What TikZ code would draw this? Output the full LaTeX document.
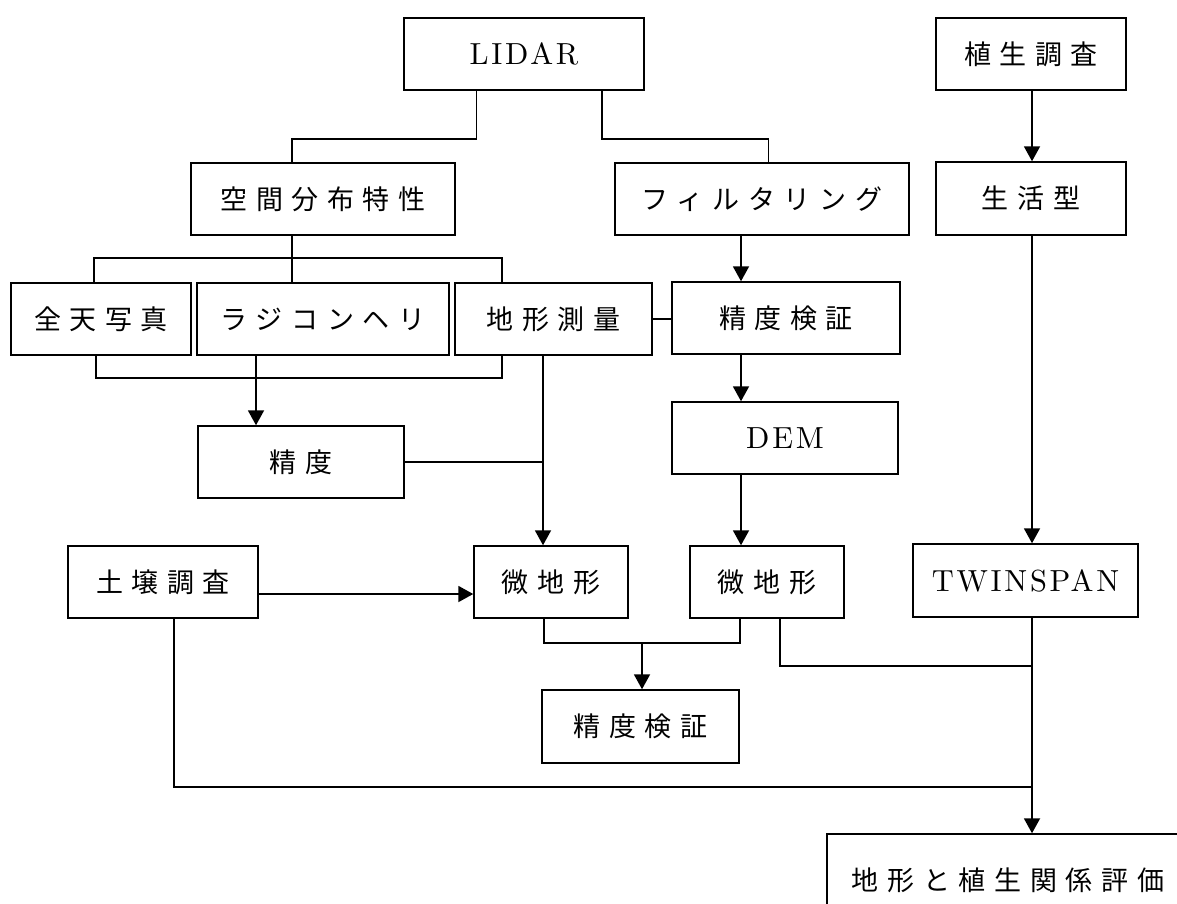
\documentclass[tikz,border=0pt]{standalone}
\usepackage{fontspec}
\usetikzlibrary{arrows.meta}
\newfontfamily\jpfont{Noto Sans CJK JP}[LetterSpace=32]
\newfontfamily\latfont{lmroman10-regular.otf}[LetterSpace=9]
\newcommand\jpf{\jpfont\fontsize{27pt}{30pt}\selectfont}
\newcommand\ltf{\latfont\fontsize{30.5pt}{34pt}\selectfont}
\begin{document}
\begin{tikzpicture}[x=1pt,y=-1pt,
  box/.style={draw, line width=1.5pt, inner sep=0pt, font=\jpf},
  lbox/.style={draw, line width=1.5pt, inner sep=0pt, font=\ltf},
  ln/.style={line width=1.5pt},
  arr/.style={line width=1.9pt, -{Triangle[width=16pt,length=15pt]}}]
\useasboundingbox (0,0) rectangle (1177,903);
% nodes
\node[lbox, minimum width=240pt, minimum height=72pt] (lidar) at (524,54) {LIDAR};
\node[box, minimum width=190pt, minimum height=72pt] (veg) at (1031,54) {植生調査};
\node[box, minimum width=190pt, minimum height=73pt] (life) at (1031,198.5) {生活型};
\node[box, minimum width=264pt, minimum height=72pt] (kukan) at (323,199) {空間分布特性};
\node[box, minimum width=294pt, minimum height=72pt] (filter) at (762,199) {フィルタリング};
\node[box, minimum width=180pt, minimum height=72pt] (zenten) at (101,319) {全天写真};
\node[box, minimum width=252pt, minimum height=72pt] (radio) at (323,319) {ラジコンヘリ};
\node[box, minimum width=197pt, minimum height=72pt] (chikei) at (553.5,319) {地形測量};
\node[box, minimum width=228pt, minimum height=72pt] (ken1) at (786,318) {精度検証};
\node[box, minimum width=206pt, minimum height=72pt] (seido) at (301,462) {精度};
\node[lbox, minimum width=226pt, minimum height=72pt] (dem) at (785,438) {DEM};
\node[box, minimum width=190pt, minimum height=72pt] (dojo) at (163,582) {土壌調査};
\node[box, minimum width=154pt, minimum height=72pt] (bichi1) at (551,582) {微地形};
\node[box, minimum width=154pt, minimum height=72pt] (bichi2) at (767,582) {微地形};
\node[lbox, minimum width=225pt, minimum height=73pt] (twin) at (1025.5,580.5) {TWINSPAN};
\node[box, minimum width=197pt, minimum height=73pt] (ken2) at (640.5,726.5) {精度検証};
\node[box, minimum width=362pt, minimum height=92pt] (final) at (1008,880) {地形と植生関係評価};
% coordinates
\coordinate (jA) at (292,258);
\coordinate (jB) at (300,378);
\coordinate (cD) at (741,0);
\coordinate (cC) at (543,0);
\coordinate (jC) at (642,643);
\coordinate (jD) at (1032,666);
\coordinate (jE) at (1032,787);
% connectors
\draw[ln] ([xshift=-47.5pt]lidar.south) -- ++(0,48) -| ([xshift=-31pt]kukan.north);
\draw[ln] ([xshift=78pt]lidar.south) -- ++(0,48) -| ([xshift=6.7pt]filter.north);
\draw[arr] ([xshift=1pt]veg.south) -- ([xshift=1pt]life.north);
\draw[arr] ([xshift=1pt]life.south) -- ([xshift=1pt]life.south |- twin.north);
\draw[ln] ([xshift=-31pt]kukan.south) -- ([xshift=-31pt]radio.north);
\draw[ln] ([xshift=-7pt]zenten.north) |- (jA) -| ([xshift=-51.5pt]chikei.north);
\draw[ln] ([xshift=-5pt]zenten.south) |- (jB) -| ([xshift=-51.5pt]chikei.south);
\draw[arr] ([xshift=-67pt]radio.south) -- ([xshift=-45pt]seido.north);
\draw[ln] (chikei.east) -- (chikei.east -| ken1.west);
\draw[arr] (filter.south -| cD) -- (ken1.north -| cD);
\draw[arr] (ken1.south -| cD) -- (dem.north -| cD);
\draw[arr] (dem.south -| cD) -- (bichi2.north -| cD);
\draw[arr] (chikei.south -| cC) -- (bichi1.north -| cC);
\draw[ln] (seido.east) -- (seido.east -| cC);
\draw[arr] ([yshift=-12pt]dojo.east) -- ([yshift=-12pt]bichi1.west);
\draw[ln] ([xshift=-7pt]bichi1.south) |- (jC) -| ([xshift=-27pt]bichi2.south);
\draw[arr] (jC) -- (jC |- ken2.north);
\draw[ln] ([xshift=13pt]bichi2.south) |- (jD);
\draw[ln] ([xshift=11pt]dojo.south) |- (jE);
\draw[arr] (twin.south -| jE) -- (final.north -| jE);
\end{tikzpicture}
\end{document}
